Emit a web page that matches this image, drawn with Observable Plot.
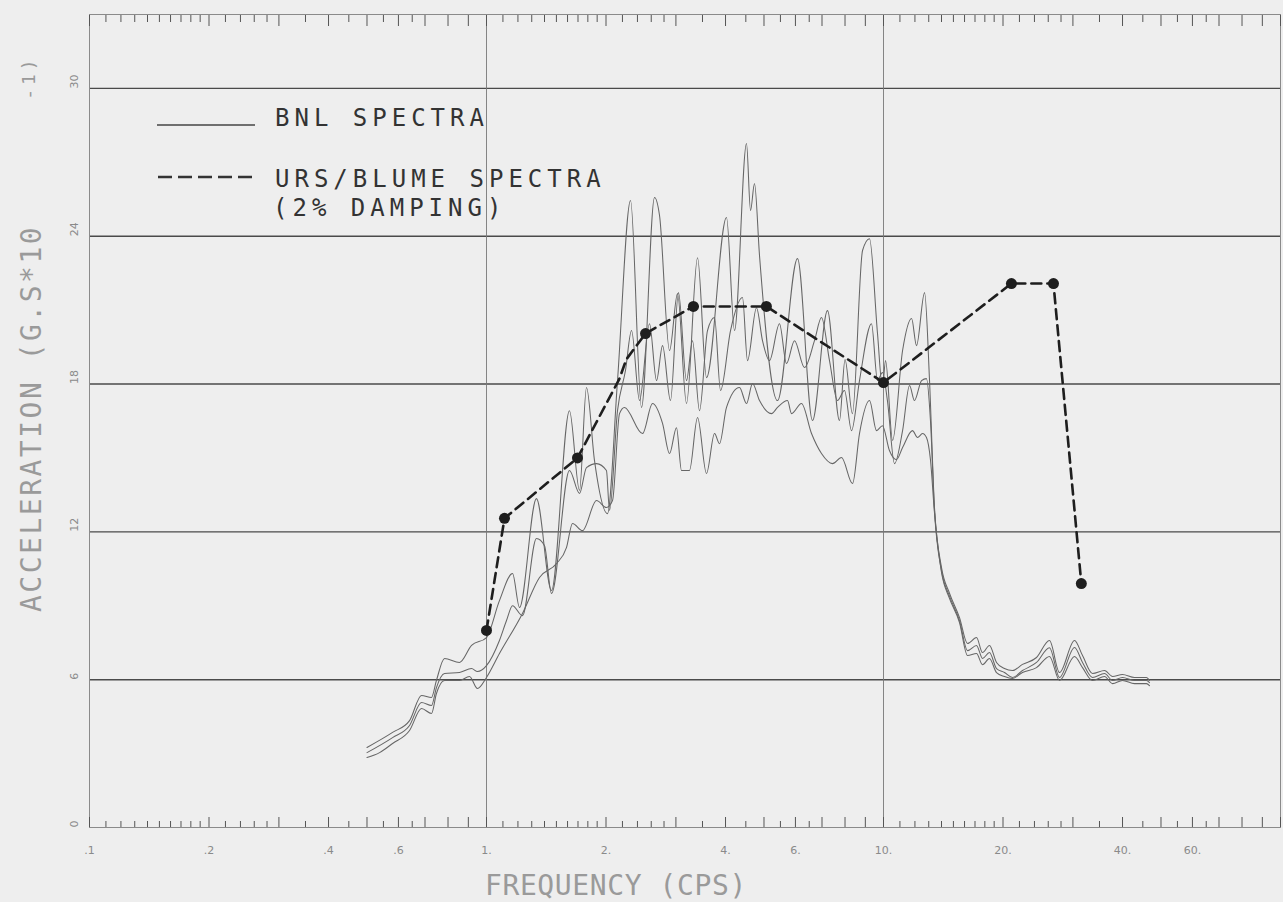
<!DOCTYPE html>
<html>
<head>
<meta charset="utf-8">
<script src="https://cdn.jsdelivr.net/npm/d3@7"></script>
<script src="https://cdn.jsdelivr.net/npm/@observablehq/plot@0.6"></script>
<style>
  html, body { margin: 0; padding: 0; background: #eeeeee; }
  #wrap { position: relative; width: 1283px; height: 902px; background: #eeeeee; overflow: hidden; }
  #wrap > svg { position: absolute; left: 0; top: 0; }
  #overlay { position: absolute; left: 0; top: 0; pointer-events: none; }
</style>
</head>
<body>
<div id="wrap"></div>
<script>
// ---- BNL spectra (three traces) ----
const bnlAFreq = [0.50,0.58,0.64,0.686,0.727,0.748,0.784,0.855,0.917,1.00,1.078,1.163,1.211,1.336,1.458,1.618,1.715,1.786,1.871,2.017,2.138,2.306,2.457,2.65,2.728,2.891,3.028,3.19,3.401,3.582,4.023,4.214,4.518,4.624,4.732,4.872,5.408,6.073,6.624,7.226,7.747,8.0,8.35,8.855,9.22,9.658,9.94,10.12,10.54,11.17,11.77,12.11,12.69,13.06,13.44,14.0,14.67,15.54,16.28,17.15,17.76,18.49,19.26,20.17,21.13,22.39,24.29,26.19,27.76,30.28,31.72,33.61,36.04,37.75,39.99,42.88,45.97,46.77];
const bnlAVal  = [3.25,3.86,4.34,5.36,5.28,5.97,6.86,6.70,7.39,7.71,9.21,10.31,8.93,13.35,9.62,16.92,13.68,17.86,14.89,12.74,18.14,25.45,17.05,25.57,24.84,19.36,21.67,17.21,23.13,18.26,24.76,20.17,27.76,25.04,26.14,23.21,17.33,23.09,16.52,20.98,16.52,19.0,16.8,23.42,23.90,20.05,17.86,18.95,15.71,19.36,20.66,19.56,21.71,18.14,12.99,10.55,9.50,8.52,7.47,7.71,7.10,7.39,6.70,6.45,6.37,6.62,6.90,7.59,6.29,7.59,6.98,6.25,6.37,6.13,6.21,6.09,6.09,5.97];

const bnlBFreq = [0.50,0.58,0.64,0.686,0.727,0.748,0.784,0.855,0.917,0.949,1.00,1.078,1.123,1.163,1.232,1.336,1.40,1.458,1.618,1.715,1.786,1.893,2.005,2.041,2.138,2.239,2.319,2.429,2.574,2.681,2.776,2.907,3.045,3.19,3.303,3.44,3.603,3.753,3.886,4.118,4.414,4.544,4.787,4.957,5.162,5.47,5.697,5.967,6.324,6.701,6.979,7.311,7.657,7.975,8.308,8.70,9.328,9.658,9.94,10.23,10.66,11.17,11.63,11.97,12.47,12.83,13.13,13.44,14.0,14.67,15.54,16.28,17.15,17.76,18.49,19.26,20.17,21.13,22.39,24.29,26.19,27.76,30.28,31.72,33.61,36.04,37.75,39.99,42.88,45.97,46.77];
const bnlBVal  = [3.04,3.65,4.14,5.07,4.95,5.68,6.25,6.29,6.45,6.33,6.57,7.59,8.40,9.0,8.6,11.73,11.44,9.50,14.49,13.56,14.61,14.77,14.49,12.87,16.92,18.55,20.17,17.33,20.45,18.14,19.56,17.33,21.71,18.14,19.76,16.92,20.17,20.70,17.74,20.17,21.51,18.95,21.10,19.76,18.95,20.45,18.83,19.76,18.67,19.76,20.70,18.95,17.33,17.74,16.11,18.14,20.45,18.14,18.47,17.33,14.77,16.11,17.94,17.33,18.14,18.22,16.52,12.87,10.43,9.38,8.40,7.18,7.39,6.86,7.10,6.45,6.29,6.09,6.37,6.70,7.30,6.09,7.31,6.70,6.09,6.25,5.97,6.09,5.97,5.97,5.88];

const bnlCFreq = [0.50,0.538,0.58,0.64,0.686,0.727,0.748,0.784,0.855,0.906,0.949,1.00,1.078,1.232,1.36,1.501,1.59,1.647,1.745,1.893,2.005,2.077,2.163,2.226,2.472,2.619,2.776,2.891,3.01,3.099,3.245,3.401,3.582,3.753,3.863,4.023,4.338,4.518,4.678,4.872,5.223,5.408,5.731,5.866,6.215,6.587,6.979,7.439,7.838,8.357,8.70,9.221,9.603,9.94,10.35,10.78,11.17,11.83,12.18,12.54,12.83,13.13,13.44,14.0,14.67,15.54,16.28,17.15,17.76,18.49,19.26,20.17,21.13,22.39,24.29,26.19,27.76,30.28,31.72,33.61,36.04,37.75,39.99,42.88,45.97,46.77];
const bnlCVal  = [2.84,3.04,3.41,3.94,4.83,4.63,5.44,5.97,5.97,6.13,5.64,6.09,7.06,8.69,10.15,10.71,11.36,12.34,12.05,13.27,12.99,13.27,16.80,17.05,15.99,17.21,16.40,15.18,16.23,14.49,14.49,16.64,14.37,15.99,15.58,17.05,17.86,17.21,18.02,17.33,16.80,17.05,17.33,16.80,17.21,15.99,15.18,14.77,15.02,13.96,15.99,17.33,16.11,16.31,15.30,14.93,15.42,16.11,15.83,15.99,15.83,14.93,12.78,10.35,9.29,8.32,6.98,7.06,6.61,6.86,6.29,6.13,6.05,6.29,6.49,6.94,5.97,6.94,6.49,5.97,6.13,5.84,5.97,5.84,5.84,5.76];

// ---- URS/Blume spectra (2% damping) ----
const ursFreq = [1.0,1.11,1.695,2.16,2.25,2.515,3.32,5.07,10.0,21.0,26.8,31.5];
const ursVal  = [8.0,12.55,15.0,18.2,19.0,20.05,21.15,21.15,18.06,22.08,22.08,9.9];
const ursMarkFreq = [1.0,1.11,1.695,2.515,3.32,5.07,10.0,21.0,26.8,31.5];
const ursMarkVal  = [8.0,12.55,15.0,20.05,21.15,21.15,18.06,22.08,22.08,9.9];

// ---- axes ----
const xTickValues = [0.1,0.2,0.4,0.6,1,2,4,6,10,20,40,60];
const xTickLabels = [".1",".2",".4",".6","1.","2.","4.","6.","10.","20.","40.","60."];
const yTickValues = [0,6,12,18,24,30];
const yGridValues = [6,12,18,24,30];
const xGridValues = [1,10];
const decades = [0.1,1,10];
const minorMultipliers = [1.1,1.2,1.3,1.4,1.5,1.6,1.7,1.8,1.9,2.2,2.4,2.6,2.8,3.5,4.5,5.5,6.5];
const majorMultipliers = [1,2,3,4,5,6,7,8,9];

const minorTicks = decades.flatMap(d => minorMultipliers.map(m => +(d*m).toPrecision(4)));
const majorTicks = decades.flatMap(d => majorMultipliers.map(m => +(d*m).toPrecision(4))).concat([100]);

const bnlRows = [
  ...bnlAFreq.map((f,i) => ({freq: f, acc: bnlAVal[i], trace: "A"})),
  ...bnlBFreq.map((f,i) => ({freq: f, acc: bnlBVal[i], trace: "B"})),
  ...bnlCFreq.map((f,i) => ({freq: f, acc: bnlCVal[i], trace: "C"}))
];
const ursRows = ursFreq.map((f,i) => ({freq: f, acc: ursVal[i]}));
const ursMarks = ursMarkFreq.map((f,i) => ({freq: f, acc: ursMarkVal[i]}));
const xLabelRows = xTickValues.map((v,i) => ({v, label: xTickLabels[i]}));

const tickFont = "DejaVu Sans, sans-serif";

const chart = Plot.plot({
  width: 1283,
  height: 902,
  marginLeft: 89,
  marginRight: 3,
  marginTop: 14,
  marginBottom: 75,
  style: {background: "transparent", fontFamily: tickFont},
  x: {type: "log", domain: [0.1, 100]},
  y: {domain: [0, 33], axis: null},
  marks: [
    Plot.gridY(yGridValues, {stroke: "#4a4a4a", strokeOpacity: 1, strokeWidth: 1.4}),
    Plot.gridX(xGridValues, {stroke: "#777", strokeOpacity: 1, strokeWidth: 0.9}),
    Plot.frame({stroke: "#8a8a8a", strokeWidth: 1}),
    Plot.axisX({anchor: "bottom", ticks: minorTicks, tickSize: -6, tickFormat: () => "", stroke: "#555", label: null}),
    Plot.axisX({anchor: "bottom", ticks: majorTicks, tickSize: -10, tickFormat: () => "", stroke: "#555", label: null}),
    Plot.axisX({anchor: "top", ticks: minorTicks, tickSize: -7, tickFormat: () => "", stroke: "#555", label: null}),
    Plot.axisX({anchor: "top", ticks: majorTicks, tickSize: -11, tickFormat: () => "", stroke: "#555", label: null}),
    Plot.text(xLabelRows, {x: "v", text: "label", frameAnchor: "bottom", dy: 26, fill: "#8a8a8a", fontSize: 11}),
    Plot.text(yTickValues, {y: d => d, text: d => String(d), frameAnchor: "left", dx: -15, rotate: -90, fill: "#8a8a8a", fontSize: 11}),
    Plot.line(bnlRows, {x: "freq", y: "acc", z: "trace", curve: "monotone-x", stroke: "#666", strokeWidth: 1.05}),
    Plot.line(ursRows, {x: "freq", y: "acc", stroke: "#1e1e1e", strokeWidth: 2.6, strokeDasharray: "10,6"}),
    Plot.dot(ursMarks, {x: "freq", y: "acc", r: 5.5, fill: "#1e1e1e", stroke: "none"})
  ]
});

const wrap = document.getElementById("wrap");
wrap.appendChild(chart);

// Legend and axis titles
const NS = "http://www.w3.org/2000/svg";
const ov = document.createElementNS(NS, "svg");
ov.setAttribute("id", "overlay");
ov.setAttribute("width", 1283);
ov.setAttribute("height", 902);
ov.innerHTML = `
  <line x1="157" y1="125" x2="255" y2="125" stroke="#444" stroke-width="1.6"/>
  <line x1="158" y1="177" x2="254" y2="177" stroke="#333" stroke-width="2.6" stroke-dasharray="14,6"/>
  <g font-family="DejaVu Sans Mono, monospace" font-size="24" fill="#333" letter-spacing="5">
    <text x="275" y="126">BNL SPECTRA</text>
    <text x="275" y="187">URS/BLUME SPECTRA</text>
    <text x="273" y="216">(2% DAMPING)</text>
  </g>
  <text x="485" y="895" font-family="DejaVu Sans Mono, monospace" font-size="28" fill="#9a9a9a" letter-spacing="0.6">FREQUENCY (CPS)</text>
  <text transform="translate(41,612) rotate(-90)" font-family="DejaVu Sans Mono, monospace" font-size="28" fill="#9a9a9a" letter-spacing="2.5">ACCELERATION (G.S*10<tspan dx="125" dy="-6" font-size="18" letter-spacing="4">-1)</tspan></text>
`;
wrap.appendChild(ov);
</script>
</body>
</html>
